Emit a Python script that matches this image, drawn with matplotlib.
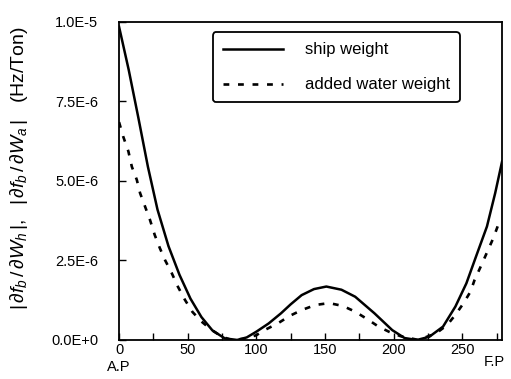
import numpy as np
import matplotlib
matplotlib.use('Agg')
import matplotlib.pyplot as plt

# 字体设置：Arial 风格
plt.rcParams['font.family'] = ['Liberation Sans', 'DejaVu Sans']
plt.rcParams['mathtext.fontset'] = 'custom'
plt.rcParams['mathtext.rm'] = 'Liberation Sans'
plt.rcParams['mathtext.it'] = 'Liberation Sans:italic'

# 数据（纵坐标单位 1E-6 Hz/Ton）
x_ship = [0, 7, 14, 21, 28, 36, 44, 52, 60, 68, 77, 86, 93, 100, 109, 118, 125, 133,
          142, 151, 162, 172, 179, 186, 199, 208, 217, 226, 236, 245, 253, 260, 268,
          274, 279]
v_ship = [9.85, 8.50, 7.00, 5.45, 4.10, 2.95, 2.05, 1.30, 0.72, 0.30, 0.05, 0.0,
          0.08, 0.26, 0.52, 0.84, 1.12, 1.41, 1.60, 1.68, 1.58, 1.36, 1.10, 0.84,
          0.31, 0.06, 0.0, 0.10, 0.42, 1.05, 1.78, 2.62, 3.57, 4.62, 5.61]

x_water = [0, 3, 6.8, 9.3, 12.9, 15.3, 18.9, 22.5, 26, 29.7, 33.4, 38.4, 42.8, 48,
           53.5, 60, 67.6, 75, 82, 92, 100, 106, 116, 124, 133, 143, 153, 163, 172,
           181, 189, 197, 205, 218, 231, 239, 245, 251, 256, 259, 264, 268.5, 272.6,
           276.2]
v_water = [6.85, 6.40, 5.93, 5.45, 5.04, 4.62, 4.20, 3.78, 3.30, 2.89, 2.52,
           2.10, 1.68, 1.26, 0.88, 0.58, 0.31, 0.10, 0.0, 0.04, 0.15, 0.31, 0.53,
           0.75, 0.94, 1.10, 1.16, 1.07, 0.89, 0.65, 0.42, 0.25, 0.12, 0.0, 0.21,
           0.47, 0.79, 1.16, 1.52, 1.89, 2.36, 2.80, 3.20, 3.62]

y_ticks = [0, 2.5e-6, 5.0e-6, 7.5e-6, 1.0e-5]
y_ticklabels = ['0.0E+0', '2.5E-6', '5.0E-6', '7.5E-6', '1.0E-5']
x_ticks = [0, 50, 100, 150, 200, 250]

fig = plt.figure(figsize=(5.11, 3.79), dpi=100)
ax = fig.add_axes([0.233, 0.103, 0.7495, 0.839])

ax.plot(x_ship, np.array(v_ship) * 1e-6, color='black', lw=1.8, label='ship weight')
ax.plot(x_water, np.array(v_water) * 1e-6, color='black', lw=1.9,
        dashes=(2.2, 3.3), label='added water weight')

ax.set_xlim(0, 279)
ax.set_ylim(0, 1.0e-5)
ax.set_xticks(x_ticks)
ax.set_xticks(np.arange(25, 279, 50), minor=True)
ax.set_yticks(y_ticks)
ax.set_yticklabels(y_ticklabels)
ax.tick_params(direction='in', length=5, width=1, labelsize=10.5)
ax.tick_params(axis='y', pad=15)
ax.tick_params(axis='x', pad=2)
ax.tick_params(which='minor', direction='in', length=5, width=1)
for s in ax.spines.values():
    s.set_linewidth(1.3)

ax.set_ylabel(r'$|\,\partial f_b\,/\,\partial W_h\,|,\ \ |\,\partial f_b\,/\,\partial W_a\,|$   (Hz/Ton)',
              fontsize=14)
ax.yaxis.set_label_coords(-0.232, 0.54)

# A.P 和 F.P 标注
ax.text(0, -0.085, 'A.P', transform=ax.transAxes, ha='center', va='center', fontsize=10.5)
ax.text(0.98, -0.069, 'F.P', transform=ax.transAxes, ha='center', va='center', fontsize=10.5)

leg = ax.legend(loc='upper left', bbox_to_anchor=(0.245, 0.967), borderaxespad=0,
                handlelength=3.6, handletextpad=1.3, labelspacing=1.2, fontsize=12,
                frameon=True, fancybox=True, borderpad=0.6)
leg.get_frame().set_edgecolor('black')
leg.get_frame().set_linewidth(1.3)
leg.get_frame().set_alpha(1)

plt.savefig('out.png', dpi=100)
